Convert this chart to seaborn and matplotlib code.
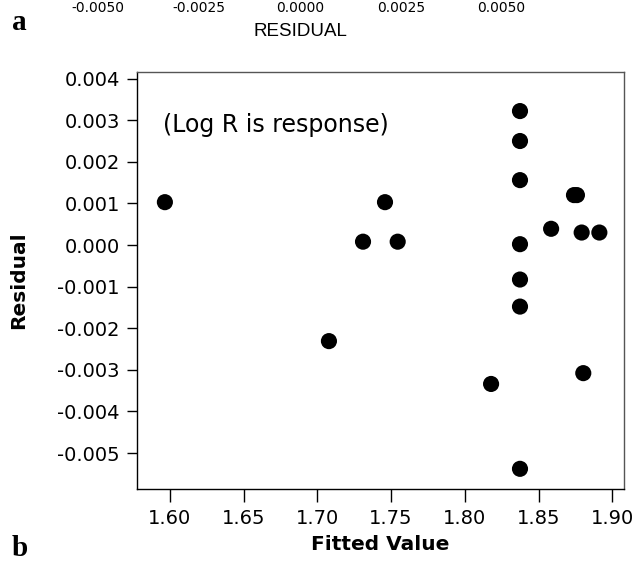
import matplotlib
matplotlib.use("Agg")
import matplotlib.pyplot as plt
import seaborn as sns
import pandas as pd

# Residuals versus fitted values (response: Log R)
fitted = [1.5967, 1.7079, 1.7310, 1.7459, 1.7545,
          1.8374, 1.8374, 1.8374, 1.8374, 1.8374, 1.8374, 1.8374,
          1.8178, 1.8585, 1.8740, 1.8760, 1.8792, 1.8912, 1.8803]
residual = [0.00103, -0.00231, 0.00008, 0.00103, 0.00008,
            0.00322, 0.00250, 0.00156, 0.00002, -0.00083, -0.00148, -0.00538,
            -0.00334, 0.00039, 0.00120, 0.00120, 0.00030, 0.00030, -0.00308]

x_ticks = [1.60, 1.65, 1.70, 1.75, 1.80, 1.85, 1.90]
y_ticks = [0.004, 0.003, 0.002, 0.001, 0.000, -0.001, -0.002, -0.003, -0.004, -0.005]

# tick values of the residual axis from panel (a) above
panel_a_ticks = [-0.0050, -0.0025, 0.0000, 0.0025, 0.0050]

df = pd.DataFrame({"Fitted Value": fitted, "Residual": residual})

sns.set_theme(style="ticks")
plt.rcParams["font.family"] = ["DejaVu Sans"]
plt.rcParams["text.color"] = "black"
plt.rcParams["axes.labelcolor"] = "black"
plt.rcParams["xtick.color"] = "black"
plt.rcParams["ytick.color"] = "black"

W, H = 634, 561
fig = plt.figure(figsize=(W / 100, H / 100), dpi=100)

# main panel (b)
ax = fig.add_axes([137 / W, 1 - 488.5 / H, (624 - 137) / W, (488.5 - 72) / H])
sns.scatterplot(data=df, x="Fitted Value", y="Residual", ax=ax,
                color="black", s=135, edgecolor="none", linewidth=0)
ax.set_xlim(1.5778, 1.9079)
ax.set_ylim(-0.005853, 0.004159)
ax.set_xticks(x_ticks)
ax.set_xticklabels([f"{v:.2f}" for v in x_ticks])
ax.set_yticks(y_ticks)
ax.set_yticklabels([f"{v:.3f}" if v != 0 else "0.000" for v in y_ticks])
ax.tick_params(axis="x", direction="out", length=9.5, width=1, pad=5,
               labelsize=14, colors="black")
ax.tick_params(axis="y", direction="out", length=7.5, width=1, pad=5,
               labelsize=14, colors="black")
for side, sp in ax.spines.items():
    sp.set_visible(True)
    sp.set_linewidth(1.0)
    sp.set_color("black" if side in ("left", "bottom") else "#555555")
ax.set_xlabel("Fitted Value", fontsize=14.5, fontweight="bold", labelpad=5,
              color="black")
ax.set_ylabel("Residual", fontsize=14.5, fontweight="bold", labelpad=21,
              color="black")
ax.text(1.5954, 0.00289, "(Log R is response)", fontsize=17,
        ha="left", va="center", color="black")

# bottom of panel (a): its residual axis along the top edge
ax_a = fig.add_axes([58 / W, 1 - 1 / H, 484 / W, 0.05])
ax_a.set_xlim(-0.006, 0.006)
ax_a.set_ylim(0, 1)
ax_a.set_xticks(panel_a_ticks)
ax_a.set_xticklabels([f"{v:.4f}" for v in panel_a_ticks], fontsize=10,
                     color="black")
ax_a.set_yticks([])
ax_a.tick_params(axis="x", length=0, pad=0)
for sp in ax_a.spines.values():
    sp.set_visible(False)
ax_a.patch.set_visible(False)
ax_a.set_xlabel("RESIDUAL", fontfamily="Liberation Sans", fontsize=13.5,
                labelpad=6, color="black")

# panel letters
fig.text(19 / W, 1 - 22 / H, "a", fontfamily="Liberation Serif",
         fontweight="bold", fontsize=21, ha="center", va="center",
         color="black")
fig.text(20 / W, 1 - 549 / H, "b", fontfamily="Liberation Serif",
         fontweight="bold", fontsize=21, ha="center", va="center",
         color="black")

fig.savefig("out.png", dpi=100)
